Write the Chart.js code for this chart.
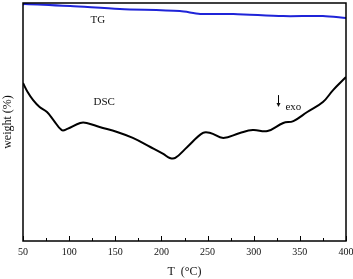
<!DOCTYPE html>
<html>
<head>
<meta charset="utf-8">
<script src="https://cdn.jsdelivr.net/npm/chart.js@4.4.0/dist/chart.umd.min.js"></script>
<style>
  html, body { margin: 0; padding: 0; background: #fff; }
  #wrap { width: 353px; height: 279px; }
</style>
</head>
<body>
<div id="wrap"><canvas id="c"></canvas></div>
<script>
const xTicks = [50, 100, 150, 200, 250, 300, 350, 400];

const tgTemp = [50, 52, 101, 155, 220, 242, 278, 332, 375, 400];
const tgWeight = [99.4, 99.6, 98.7, 97.5, 96.6, 95.4, 95.4, 94.5, 94.5, 93.7];

const dscTemp = [50, 55, 61, 68, 76, 83, 92, 98, 112, 119, 133, 152, 169, 188, 202, 209, 215, 228, 245, 253, 267, 285, 299, 315, 332, 343, 358, 375, 386, 400];
const dscHeat = [66.4, 62.6, 59.2, 56.3, 54.2, 50.8, 46.6, 47.1, 49.6, 49.6, 47.9, 45.8, 43.3, 39.5, 36.6, 34.9, 34.9, 39.5, 45.4, 45.4, 43.3, 45.4, 46.6, 46.2, 49.6, 50.4, 54.2, 58.4, 63.4, 68.9];

const serif = '"Liberation Serif", "DejaVu Serif", serif';

const pairs = (xs, ys) => xs.map((x, i) => ({ x, y: ys[i] }));

// frame, inward ticks and the in-plot labels
const decor = {
  id: 'decor',
  afterDraw(chart) {
    const { ctx, chartArea: a, scales: { x, y } } = chart;
    ctx.save();
    ctx.strokeStyle = '#000';
    ctx.lineWidth = 1.5;
    ctx.strokeRect(a.left, a.top, a.right - a.left, a.bottom - a.top);

    ctx.lineWidth = 1;
    for (let t = 50; t <= 400; t += 25) {
      const px = Math.round(x.getPixelForValue(t)) + 0.5;
      const len = t % 50 === 0 ? 5 : 3;
      ctx.beginPath();
      ctx.moveTo(px, a.bottom);
      ctx.lineTo(px, a.bottom - len);
      ctx.stroke();
    }

    ctx.fillStyle = '#111';
    ctx.font = '11px ' + serif;
    ctx.textAlign = 'center';
    ctx.textBaseline = 'middle';
    ctx.fillText('TG', x.getPixelForValue(131), y.getPixelForValue(92.9));
    ctx.fillText('DSC', x.getPixelForValue(138), y.getPixelForValue(58.4));
    ctx.fillText('exo', x.getPixelForValue(343), y.getPixelForValue(56.3));

    // arrow
    const ax = Math.round(x.getPixelForValue(326)) + 0.5;
    const y0 = y.getPixelForValue(61.3), y1 = y.getPixelForValue(56.3);
    ctx.beginPath();
    ctx.moveTo(ax, y0);
    ctx.lineTo(ax, y1 - 3);
    ctx.stroke();
    ctx.beginPath();
    ctx.moveTo(ax - 2, y1 - 4);
    ctx.lineTo(ax + 2, y1 - 4);
    ctx.lineTo(ax, y1);
    ctx.closePath();
    ctx.fill();
    ctx.restore();
  }
};

new Chart(document.getElementById('c'), {
  type: 'line',
  data: {
    datasets: [
      {
        data: pairs(tgTemp, tgWeight),
        borderColor: '#1f24d8',
        borderWidth: 2,
        pointRadius: 0,
        tension: 0.3,
        fill: false
      },
      {
        data: pairs(dscTemp, dscHeat),
        borderColor: '#000',
        borderWidth: 2,
        pointRadius: 0,
        tension: 0.4,
        fill: false
      }
    ]
  },
  options: {
    responsive: true,
    maintainAspectRatio: false,
    animation: false,
    layout: { padding: { top: 3, right: 7, left: 0, bottom: 0 } },
    scales: {
      x: {
        type: 'linear',
        min: 50,
        max: 400,
        grid: { display: false, drawTicks: false },
        border: { display: false },
        afterBuildTicks: s => { s.ticks = xTicks.map(v => ({ value: v })); },
        ticks: {
          color: '#111',
          padding: 5,
          maxRotation: 0,
          font: { family: serif, size: 10 }
        },
        title: {
          display: true,
          text: 'T  (°C)',
          color: '#111',
          padding: { top: 5, bottom: 0 },
          font: { family: serif, size: 12 }
        },
        afterFit: s => { s.height = 38; s.paddingLeft = 0; s.paddingRight = 0; }
      },
      y: {
        min: 0,
        max: 100,
        grid: { display: false, drawTicks: false },
        border: { display: false },
        ticks: { display: false },
        title: {
          display: true,
          text: 'weight (%)',
          color: '#111',
          padding: { top: 1, bottom: 3 },
          font: { family: serif, size: 12 }
        },
        afterFit: s => { s.width = 23; }
      }
    },
    plugins: { legend: { display: false }, tooltip: { enabled: false } }
  },
  plugins: [decor]
});
</script>
</body>
</html>
